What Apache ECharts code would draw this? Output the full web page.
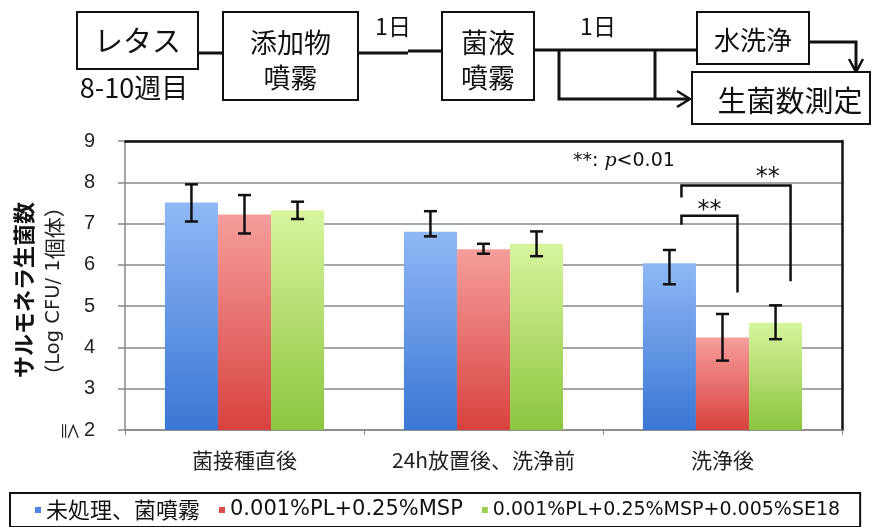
<!DOCTYPE html>
<html>
<head>
<meta charset="utf-8">
<script src="https://cdn.jsdelivr.net/npm/echarts@6/dist/echarts.min.js"></script>
<style>
  html, body { margin: 0; padding: 0; background: #fff; }
  #chart { width: 880px; height: 527px; }
</style>
</head>
<body>
<div id="chart"></div>
<script>
// Sampling stages on the x axis
const categories = ['菌接種直後', '24h放置後、洗浄前', '洗浄後'];
const seriesNames = ['未処理、菌噴霧', '0.001%PL+0.25%MSP', '0.001%PL+0.25%MSP+0.005%SE18'];

// Mean viable Salmonella counts (log CFU / head)
const untreated = [7.51, 6.80, 6.04];
const plMsp = [7.22, 6.38, 4.24];
const plMspSe = [7.32, 6.51, 4.60];

// Error bar extents (low / high)
const untreatedLow = [7.05, 6.69, 5.53];
const untreatedHigh = [7.95, 7.30, 6.36];
const plMspLow = [6.76, 6.27, 3.68];
const plMspHigh = [7.69, 6.51, 4.81];
const plMspSeLow = [7.11, 6.21, 4.20];
const plMspSeHigh = [7.53, 6.81, 5.02];

// Y axis ticks
const yTicks = [2, 3, 4, 5, 6, 7, 8, 9];

// Significance brackets in the 洗浄後 group (bar index 0 compared with bar 1 and bar 2)
const bracketTo = [1, 2];
const bracketTop = [7.19, 7.92];
const bracketLeftEnd = [6.97, 7.63];
const bracketRightEnd = [5.33, 5.60];
const bracketLabelLevel = [7.45, 8.26];
const bracketLabelPos = [0.5, 0.79];

const BAR_FRAC = 0.222;
const colors = [
  ['#90b8f6', '#3a76d4'],
  ['#f69e9c', '#d8423f'],
  ['#d8f59e', '#8cc53f']
];
const solid = ['#4a86e0', '#e04c4a', '#9acd4c'];
const means = [untreated, plMsp, plMspSe];
const lows = [untreatedLow, plMspLow, plMspSeLow];
const highs = [untreatedHigh, plMspHigh, plMspSeHigh];

const chart = echarts.init(document.getElementById('chart'), null, { renderer: 'canvas' });

const cjk = '"Noto Sans CJK JP", sans-serif';

const barSeries = means.map((vals, s) => ({
  type: 'bar',
  name: seriesNames[s],
  data: vals,
  barWidth: (BAR_FRAC * 100) + '%',
  barGap: '0%',
  itemStyle: {
    color: new echarts.graphic.LinearGradient(0, 0, 0, 1, [
      { offset: 0, color: colors[s][0] },
      { offset: 1, color: colors[s][1] }
    ])
  },
  z: 2
}));

const errorSeries = means.map((vals, s) => ({
  type: 'custom',
  name: 'err' + s,
  data: categories.map((c, i) => [i, lows[s][i], highs[s][i]]),
  encode: { x: 0, y: [1, 2] },
  z: 5,
  renderItem(params, api) {
    const cat = api.value(0);
    const band = api.size([1, 0])[0];
    const off = (s - 1) * band * BAR_FRAC;
    const pLo = api.coord([cat, api.value(1)]);
    const pHi = api.coord([cat, api.value(2)]);
    const x = pLo[0] + off;
    const cap = 6.5;
    const st = { stroke: '#111', lineWidth: 2.5 };
    return {
      type: 'group',
      children: [
        { type: 'line', shape: { x1: x, y1: pLo[1], x2: x, y2: pHi[1] }, style: st },
        { type: 'line', shape: { x1: x - cap, y1: pLo[1], x2: x + cap, y2: pLo[1] }, style: st },
        { type: 'line', shape: { x1: x - cap, y1: pHi[1], x2: x + cap, y2: pHi[1] }, style: st }
      ]
    };
  }
}));

const bracketSeries = {
  type: 'custom',
  name: 'sig',
  data: bracketTo.map((t, k) => [2, bracketTop[k], bracketLeftEnd[k], bracketRightEnd[k], t, bracketLabelLevel[k], bracketLabelPos[k]]),
  encode: { x: 0, y: 1 },
  z: 6,
  renderItem(params, api) {
    const cat = api.value(0);
    const band = api.size([1, 0])[0];
    const bw = band * BAR_FRAC;
    const center = api.coord([cat, 0])[0];
    const xL = center - bw + 12;
    const xR = center + (api.value(4) - 1) * bw + 15;
    const yTop = api.coord([cat, api.value(1)])[1];
    const yL = api.coord([cat, api.value(2)])[1];
    const yR = api.coord([cat, api.value(3)])[1];
    const yLab = api.coord([cat, api.value(5)])[1];
    const xLab = xL + (xR - xL) * api.value(6);
    return {
      type: 'group',
      children: [
        {
          type: 'polyline',
          shape: { points: [[xL, yL], [xL, yTop], [xR, yTop], [xR, yR]] },
          style: { stroke: '#111', lineWidth: 2.5, fill: null }
        },
        {
          type: 'text',
          x: xLab, y: yLab + 6,
          style: { text: '**', font: '24px "DejaVu Sans"', fill: '#111', align: 'center', verticalAlign: 'middle' }
        }
      ]
    };
  }
};

// Flow diagram above the chart
const box = (x, y, w, h) => ({
  type: 'rect', shape: { x, y, width: w, height: h },
  style: { fill: '#fff', stroke: '#111', lineWidth: 2 }, z: 10
});
const txt = (s, x, y, size) => ({
  type: 'text', x, y, z: 11,
  style: { text: s, font: size + 'px ' + cjk, fill: '#111', align: 'center', verticalAlign: 'middle' }
});
const seg = (pts, w) => ({
  type: 'polyline', shape: { points: pts }, z: 9,
  style: { stroke: '#111', lineWidth: w || 3, fill: null }
});

const flow = [
  box(77, 12, 121, 57), txt('レタス', 137.5, 41, 29),
  txt('8-10週目', 134, 88, 27),
  seg([[198, 53], [223, 53]]),
  box(223, 12, 135, 88), txt('添加物', 290.5, 43, 27), txt('噴霧', 290.5, 78, 27),
  seg([[358, 53], [408, 53]]), seg([[408, 51], [442, 51]]),
  txt('1日', 393, 26, 23),
  box(442, 12, 92, 88), txt('菌液', 488, 43, 27), txt('噴霧', 488, 78, 27),
  seg([[534, 50], [697, 50]]),
  txt('1日', 598, 26, 23),
  seg([[559, 50], [559, 99], [689, 99]]),
  seg([[655, 50], [655, 99]]),
  seg([[677, 91], [690, 99], [677, 107]], 2.5),
  box(697, 12, 112, 52), txt('水洗浄', 753, 40, 26),
  seg([[809, 42], [856, 42], [856, 71]]),
  seg([[849, 59], [856, 72], [863, 59]], 2.5),
  box(692, 72, 178, 52), txt('生菌数測定', 790, 101, 29)
];

const annotations = [
  {
    type: 'text', x: 24, y: 290, rotation: Math.PI / 2, z: 10,
    style: { text: 'サルモネラ生菌数', font: 'bold 22px ' + cjk, fill: '#111', align: 'center', verticalAlign: 'middle' }
  },
  {
    type: 'text', x: 54, y: 291, rotation: Math.PI / 2, z: 10,
    style: {
      text: '{c|（}{l|Log CFU/ 1}{c|個体）}',
      align: 'center', verticalAlign: 'middle',
      rich: {
        c: { fontFamily: 'Noto Sans CJK JP', fontSize: 21, fill: '#222' },
        l: { fontFamily: 'DejaVu Sans', fontSize: 19.5, fill: '#222' }
      }
    }
  },
  {
    type: 'text', x: 70, y: 431, rotation: -Math.PI / 2, z: 10,
    style: { text: '≦', font: '18px ' + cjk, fill: '#222', align: 'center', verticalAlign: 'middle' }
  },
  {
    type: 'text', x: 573, y: 161, z: 10,
    style: {
      text: '{a|**: }{i|p}{a|<0.01}',
      verticalAlign: 'middle',
      rich: {
        a: { font: '19px "DejaVu Sans"', fill: '#111' },
        i: { font: 'italic 19px "DejaVu Serif"', fill: '#111' }
      }
    }
  }
];

chart.setOption({
  animation: false,
  backgroundColor: '#fff',
  grid: { left: 125, right: 38, top: 141, bottom: 97 },
  legend: {
    data: seriesNames.map((n, s) => ({ name: n, itemStyle: { color: solid[s] } })),
    left: 10, top: 493,
    padding: [6, 20, 6, 25],
    borderColor: '#111', borderWidth: 2,
    itemWidth: 6, itemHeight: 6, itemGap: 19,
    icon: 'rect',
    formatter: n => '{s' + seriesNames.indexOf(n) + '|' + n + '}',
    textStyle: {
      rich: {
        s0: { fontFamily: 'Noto Sans CJK JP', fontSize: 22, color: '#111', lineHeight: 24 },
        s1: { fontFamily: 'DejaVu Sans', fontSize: 21, color: '#111', lineHeight: 24 },
        s2: { fontFamily: 'DejaVu Sans', fontSize: 19, color: '#111', lineHeight: 24 }
      }
    }
  },
  xAxis: [
    {
      type: 'category', data: categories,
      axisLine: { lineStyle: { color: '#888', width: 1.5 } },
      axisTick: { show: true, length: 5, lineStyle: { color: '#888' } },
      axisLabel: { fontFamily: 'Noto Sans CJK JP', fontSize: 21, color: '#222', margin: 20 }
    },
    {
      type: 'category', data: categories, position: 'top',
      axisLine: { lineStyle: { color: '#111', width: 2.5 } },
      axisTick: { show: false }, axisLabel: { show: false }
    }
  ],
  yAxis: [
    {
      type: 'value', min: yTicks[0], max: yTicks[yTicks.length - 1], interval: 1,
      axisLine: { show: true, lineStyle: { color: '#888', width: 1.5 } },
      axisTick: { show: true, length: 7, lineStyle: { color: '#888', width: 1.5 } },
      axisLabel: { fontFamily: 'Liberation Sans', fontSize: 20, color: '#222', margin: 30 },
      splitLine: { lineStyle: { color: '#8a8a8a', width: 1.5 } }
    },
    {
      type: 'value', min: yTicks[0], max: yTicks[yTicks.length - 1], position: 'right',
      axisLine: { show: true, lineStyle: { color: '#111', width: 2.5 } },
      axisTick: { show: false }, axisLabel: { show: false }, splitLine: { show: false }
    }
  ],
  series: [...barSeries, ...errorSeries, bracketSeries],
  graphic: [...flow, ...annotations]
});
</script>
</body>
</html>
